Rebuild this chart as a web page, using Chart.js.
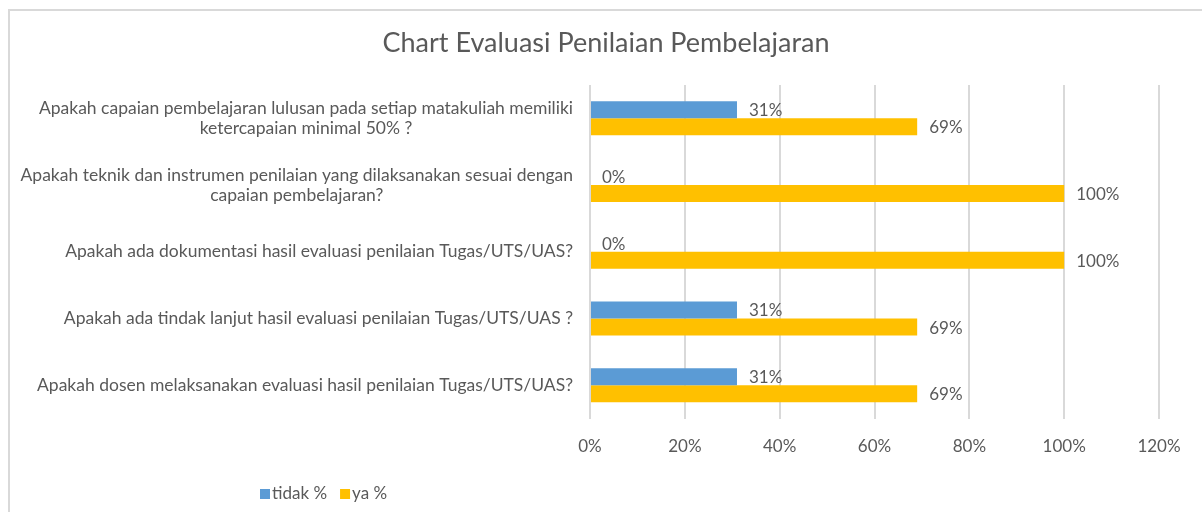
<!DOCTYPE html>
<html>
<head>
<meta charset="utf-8">
<title>Chart Evaluasi Penilaian Pembelajaran</title>
<script src="https://cdn.jsdelivr.net/npm/chart.js@4/dist/chart.umd.min.js"></script>
<style>
    html, body { margin: 0; padding: 0; background: #fff; overflow: hidden; }
    #wrap { position: relative; width: 1202px; height: 512px; }
    #bingkai { position: absolute; left: 8px; top: 9px; width: 1400px; height: 700px; border: 2px solid #d9d9d9; box-sizing: border-box; }
    #grafik { position: absolute; left: 0; top: 0; }
</style>
</head>
<body>
<div id="wrap">
    <div id="bingkai"></div>
    <canvas id="grafik" width="1202" height="512"></canvas>
</div>
<script>
// Data chart
const judul = 'Chart Evaluasi Penilaian Pembelajaran';
const kategori = [
    ['Apakah capaian pembelajaran lulusan pada setiap matakuliah memiliki', 'ketercapaian minimal 50% ?'],
    ['Apakah teknik dan instrumen penilaian yang dilaksanakan sesuai dengan', 'capaian pembelajaran?'],
    ['Apakah ada dokumentasi hasil evaluasi penilaian Tugas/UTS/UAS?'],
    ['Apakah ada tindak lanjut hasil evaluasi penilaian Tugas/UTS/UAS ?'],
    ['Apakah dosen melaksanakan evaluasi hasil penilaian Tugas/UTS/UAS?']
];
const nilaiTidak = [31, 0, 0, 31, 31];
const nilaiYa = [69, 100, 100, 69, 69];
const namaSeri = ['tidak %', 'ya %'];
const warnaSeri = ['#5B9BD5', '#FFC000'];
const skalaMaks = 120;
const skalaLangkah = 20;

const FONT = 'Lato, "Open Sans", sans-serif';
const ABU = '#595959';

// plugin untuk teks: judul, label kategori, label data, legenda
const pluginTeks = {
    id: 'pluginTeks',
    afterDatasetsDraw(chart) {
        const ctx = chart.ctx;
        ctx.save();
        ctx.font = '17px ' + FONT;
        ctx.fillStyle = ABU;
        ctx.textAlign = 'left';
        ctx.textBaseline = 'middle';
        chart.data.datasets.forEach((ds, i) => {
            chart.getDatasetMeta(i).data.forEach((bar, j) => {
                ctx.fillText(ds.data[j] + '%', bar.x + 12, bar.y + 1);
            });
        });
        ctx.restore();
    },
    afterDraw(chart) {
        const ctx = chart.ctx;
        const area = chart.chartArea;
        const y = chart.scales.y;
        ctx.save();
        ctx.fillStyle = ABU;

        // judul
        ctx.font = '27px ' + FONT;
        ctx.textAlign = 'center';
        ctx.textBaseline = 'middle';
        ctx.fillText(judul, 606, 43);

        // label kategori (blok rata kanan, baris di tengah)
        ctx.font = '17.5px ' + FONT;
        const tinggiBaris = 20;
        kategori.forEach((baris, i) => {
            const tengahY = y.getPixelForValue(i);
            const lebarBlok = Math.max(...baris.map(b => ctx.measureText(b).width));
            const tengahX = area.left - 17 - lebarBlok / 2;
            baris.forEach((b, k) => {
                const py = tengahY + (k - (baris.length - 1) / 2) * tinggiBaris;
                ctx.fillText(b, tengahX, py);
            });
        });

        // legenda
        ctx.font = '17px ' + FONT;
        ctx.textAlign = 'left';
        let lx = 260;
        const ly = 494;
        chart.data.datasets.forEach((ds, i) => {
            ctx.fillStyle = ds.backgroundColor;
            ctx.fillRect(lx, ly - 5, 10, 10);
            ctx.fillStyle = ABU;
            ctx.fillText(ds.label, lx + 12, ly);
            lx += 12 + ctx.measureText(ds.label).width + 13;
        });
        ctx.restore();
    }
};

const ctx = document.getElementById('grafik').getContext('2d');
const grafik = new Chart(ctx, {
    type: 'bar',
    data: {
        labels: kategori,
        datasets: [
            { label: namaSeri[0], data: nilaiTidak, backgroundColor: warnaSeri[0] },
            { label: namaSeri[1], data: nilaiYa, backgroundColor: warnaSeri[1] }
        ]
    },
    options: {
        indexAxis: 'y',
        responsive: false,
        animation: false,
        layout: { padding: { left: 590, right: 43, top: 85, bottom: 37 } },
        datasets: {
            bar: { categoryPercentage: 0.51, barPercentage: 1.0 }
        },
        scales: {
            x: {
                min: 0,
                max: skalaMaks,
                ticks: {
                    stepSize: skalaLangkah,
                    color: ABU,
                    font: { family: FONT, size: 17 },
                    padding: 18,
                    maxRotation: 0,
                    callback: v => v + '%'
                },
                grid: { color: '#d9d9d9', lineWidth: 2, drawTicks: false },
                border: { display: false }
            },
            y: {
                ticks: { display: false },
                grid: { display: false },
                border: { display: false },
                afterFit: s => { s.width = 0; }
            }
        },
        plugins: {
            legend: { display: false },
            title: { display: false },
            tooltip: { enabled: false }
        }
    },
    plugins: [pluginTeks]
});
</script>
</body>
</html>
